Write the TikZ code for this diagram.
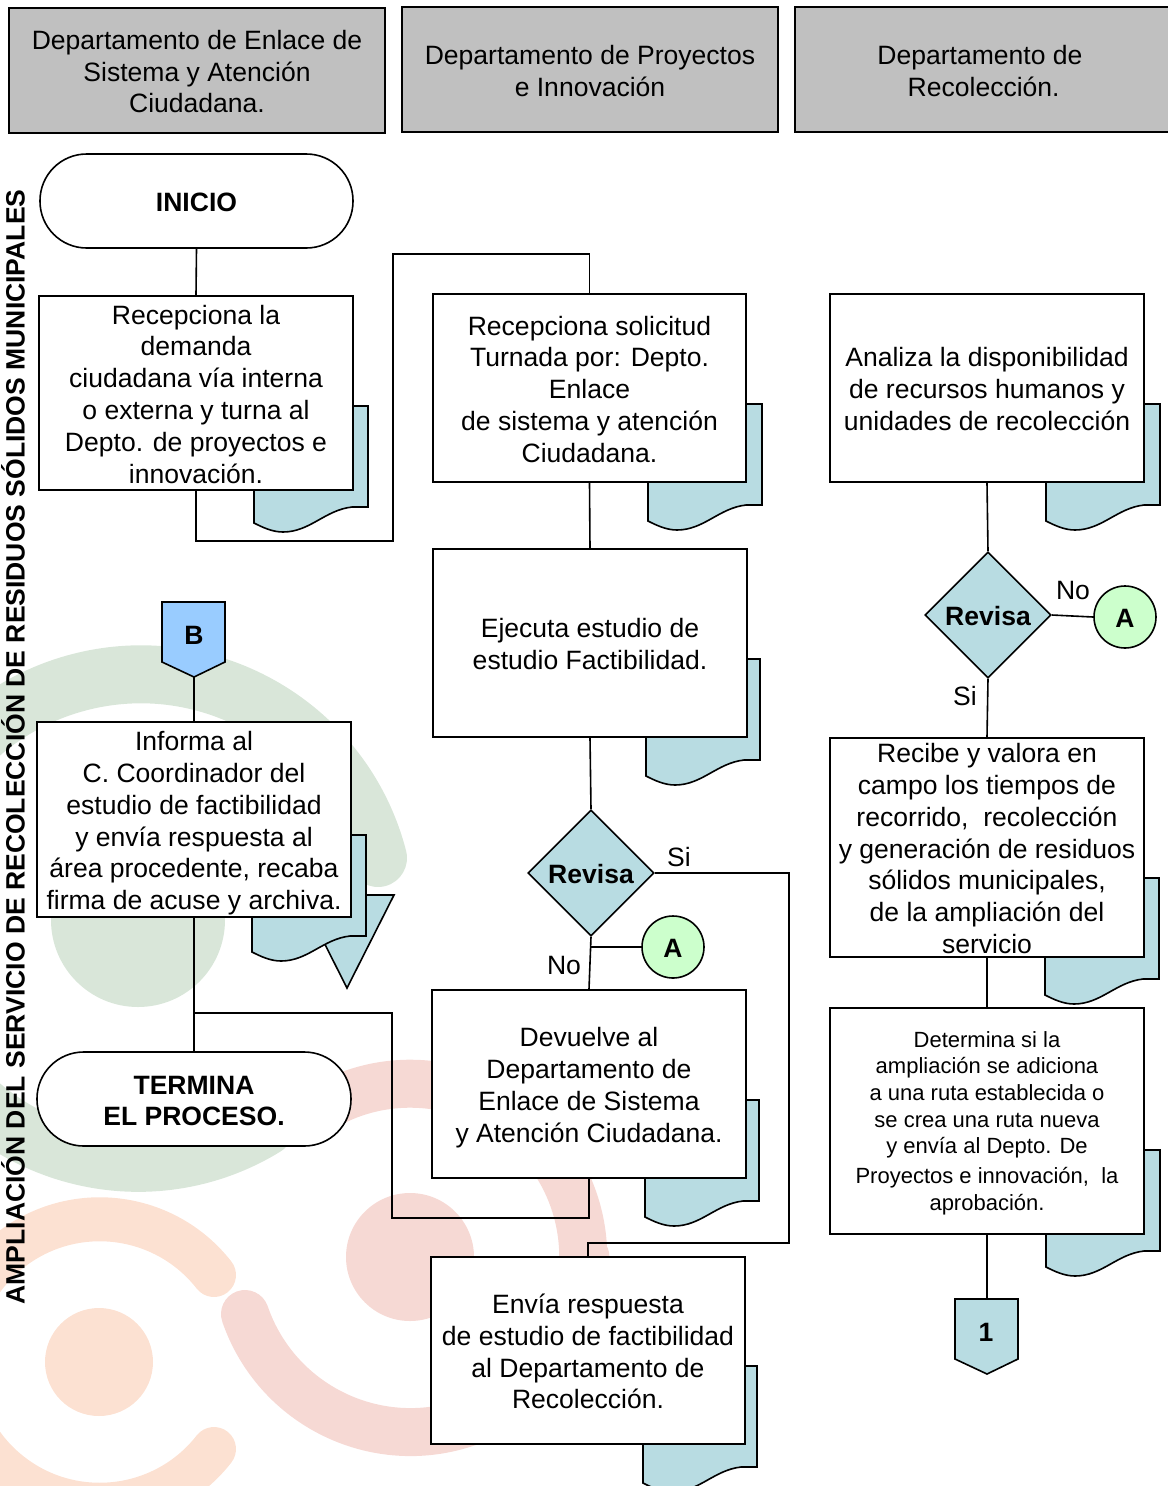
\documentclass[tikz,border=0pt]{standalone}
\usepackage{fontspec}
\setmainfont{Liberation Sans}
\usetikzlibrary{shapes.geometric}
\definecolor{sheet}{HTML}{B8DCE2}
\definecolor{headgray}{HTML}{C0C0C0}
\definecolor{wmgreen}{HTML}{D9E6D9}
\definecolor{wmorange}{HTML}{FCE1D2}
\definecolor{wmred}{HTML}{F6D9D4}
\definecolor{offblue}{HTML}{99CCFF}
\definecolor{palegreen}{HTML}{CCFFCC}
\newcommand{\tl}{\rule{0pt}{21pt}}
\newcommand{\bl}{\rule[-5pt]{0pt}{5pt}}
\tikzset{
  ln/.style={line width=1.2pt,draw=black,line join=miter},
  conn/.style={line width=1.2pt,draw=black,line join=miter},
  txt/.style={font=\fontsize{19.9}{23.85}\selectfont,align=center,inner sep=0pt,text=black},
  btxt/.style={font=\fontsize{19.9}{23.4}\selectfont\bfseries,align=center,inner sep=0pt,text=black},
  procbox/.style={ln,fill=white,txt},
  headbox/.style={ln,fill=headgray,txt},
  termbox/.style={ln,fill=white,btxt,rounded corners=35pt},
  decision/.style={ln,fill=sheet,btxt,diamond,aspect=1,minimum width=94.5pt,minimum height=94.5pt},
  connector/.style={ln,fill=#1,btxt,circle,minimum size=46.5pt},
  docpic/.pic={
    \draw[ln,fill=sheet] (0,0) -- (114,0) -- (114,101) -- (98,101)
      .. controls (71,104) and (56,126) .. (29,126)
      .. controls (18,126) and (8,121) .. (0,117) -- cycle;
  },
  wm/.style={line cap=round,line width=#1}
}
\newcommand{\boxat}[6][procbox]{\node[#1,minimum width={(#5-#3)*0.75pt},minimum height={(#6-#4)*0.75pt}] (#2) at ({(#3+#5)/2},{(#4+#6)/2})}
\begin{document}
\begin{tikzpicture}[x=0.75pt,y=-0.75pt]
\useasboundingbox (0,0) rectangle (1168,1486);
\clip (0,0) rectangle (1168,1486);
% watermark (y axis points down, so angles run clockwise on the page)
\fill[wmgreen] (138,920) circle[radius=87];
\draw[wm=43.5pt,wmgreen] (378,858) arc[start angle=-14.5,end angle=-180,radius=245];
\draw[wm=43.5pt,wmgreen] (265,1127) arc[start angle=58.5,end angle=180,radius=243];
\fill[wmorange] (99,1362) circle[radius=54];
\draw[wm=33pt,wmorange] (214,1275) arc[start angle=-38,end angle=-180,radius=145];
\draw[wm=33pt,wmorange] (214,1449) arc[start angle=38,end angle=180,radius=145];
\fill[wmred] (410,1257) circle[radius=64];
\draw[wm=36pt,wmred] (245,1314) arc[start angle=161,end angle=0,radius=175];
\draw[wm=36pt,wmred] (311,1115) arc[start angle=-125,end angle=0,radius=173];
% sheets behind the boxes
\draw[ln,fill=sheet] (300,895) -- (394,895) -- (347,988) -- cycle;
\pic at (254,406) {docpic};
\pic at (648,404) {docpic};
\pic at (1046,404) {docpic};
\pic at (646,659) {docpic};
\pic at (252,835) {docpic};
\pic at (1045,878) {docpic};
\pic at (645,1100) {docpic};
\pic at (1046,1150) {docpic};
\pic at (643,1366) {docpic};
% headers
\boxat[headbox]{h1}{9}{8}{385}{133} {\tl Departamento de Enlace de\\Sistema y Atención\\Ciudadana.\bl};
\boxat[headbox]{h2}{402}{7}{778}{132} {\tl Departamento de Proyectos\\e Innovación\bl};
\boxat[headbox]{h3}{795}{7}{1180}{132} {\tl Departamento de\hspace*{11.25pt}\\\ Recolección.\hspace*{11.25pt}\bl};
% side title
\node[font=\fontsize{19.9}{24}\selectfont\bfseries,rotate=90,inner sep=0pt] (title) at (13,747) {AMPLIACIÓN DEL SERVICIO DE RECOLECCIÓN DE RESIDUOS SÓLIDOS MUNICIPALES};
% terminals
\boxat[termbox]{ini}{40}{154}{353}{248} {\tl INICIO\bl};
\boxat[termbox]{fin}{37}{1052}{351}{1146} {\tl TERMINA\\EL PROCESO.\bl};
% process boxes
\boxat{b1}{39}{296}{353}{490} {\tl Recepciona la\\demanda\\ciudadana vía interna\\o externa y turna al\\Depto. de proyectos e\\innovación.\bl};
\boxat{b2}{433}{294}{746}{482} {\tl Recepciona solicitud\\Turnada por: Depto.\\Enlace\\de sistema y atención\\Ciudadana.\bl};
\boxat{b3}{830}{294}{1144}{482} {\tl Analiza la disponibilidad\\de recursos humanos y\\unidades de recolección\bl};
\boxat{b4}{433}{549}{747}{737} {\tl Ejecuta estudio de\\estudio Factibilidad.\bl};
\boxat{b5}{37}{722}{351}{917} {\tl Informa al\\C. Coordinador del\\estudio de factibilidad\\y envía respuesta al\\área procedente, recaba\\firma de acuse y archiva.\bl};
\boxat{b6}{830}{738}{1144}{957} {\rule{0pt}{16pt}Recibe y valora en\\campo los tiempos de\\recorrido,\ \ recolección\\y generación de residuos\\sólidos municipales,\\de la ampliación del\\servicio};
\boxat{b7}{432}{990}{746}{1178} {\tl Devuelve al\\Departamento de\\Enlace de Sistema\\y Atención Ciudadana.\bl};
\boxat[procbox,font=\fontsize{16.5}{20}\selectfont]{b8}{830}{1008}{1144}{1234} {\rule{0pt}{16.5pt}Determina si la\\ampliación se adiciona\\a una ruta establecida o\\se crea una ruta nueva\\y envía al Depto. De\\[2.5pt]Proyectos e innovación,\ \ la\\aprobación.\bl};
\boxat{b9}{431}{1257}{745}{1444} {\tl Envía respuesta\\de estudio de factibilidad\\al Departamento de\\Recolección.\bl};
% decisions
\node[decision] (d1) at (591,873) {\tl Revisa\bl};
\node[decision] (d2) at (988,615) {\tl Revisa\bl};
% connectors A
\node[connector=palegreen] (a1) at (673,947) {\tl A\bl};
\node[connector=palegreen] (a2) at (1125,617) {\tl A\bl};
% off-page
\draw[ln,fill=offblue] (162,602) -- (225,602) -- (225,662) -- (194,677) -- (162,662) -- cycle;
\node[btxt] (offb) at (194,635) {B};
\coordinate (offbs) at (194,677);
\draw[ln,fill=sheet] (955,1299) -- (1018,1299) -- (1018,1359) -- (987,1374) -- (955,1359) -- cycle;
\node[btxt] (offn) at (986,1332) {1};
\coordinate (offnn) at (987,1299);
% labels
\node[txt] (si1) at (679,857) {Si};
\node[txt] (no1) at (564,965) {No};
\node[txt] (no2) at (1073,590) {No};
\node[txt] (si2) at (965,696) {Si};
% connectors
\draw[conn] (ini.south) -- (b1.north);
\draw[conn] (b1.south) -- ++(0,50) -| (393,254) -| (b2.north);
\draw[conn] (b2.south) -- (b4.north);
\draw[conn] (b4.south) -- (d1.north);
\draw[conn] (d1.south) -- (b7.north);
\coordinate (ja) at (590.5,947);
\draw[conn] (ja) -- (a1.west);
\draw[conn] (d1.east) -| (789,1243) -| (b9.north);
\draw[conn] (b7.south) -- ++(0,39) -| (392,1013) -- (194,1013);
\draw[conn] (offbs) -- (b5.north);
\draw[conn] (b5.south) -- (fin.north);
\draw[conn] (b3.south) -- (d2.north);
\draw[conn] (d2.east) -- (a2.west);
\draw[conn] (d2.south) -- (b6.north);
\draw[conn] (b6.south) -- (b8.north);
\draw[conn] (b8.south) -- (offnn);
\end{tikzpicture}
\end{document}
